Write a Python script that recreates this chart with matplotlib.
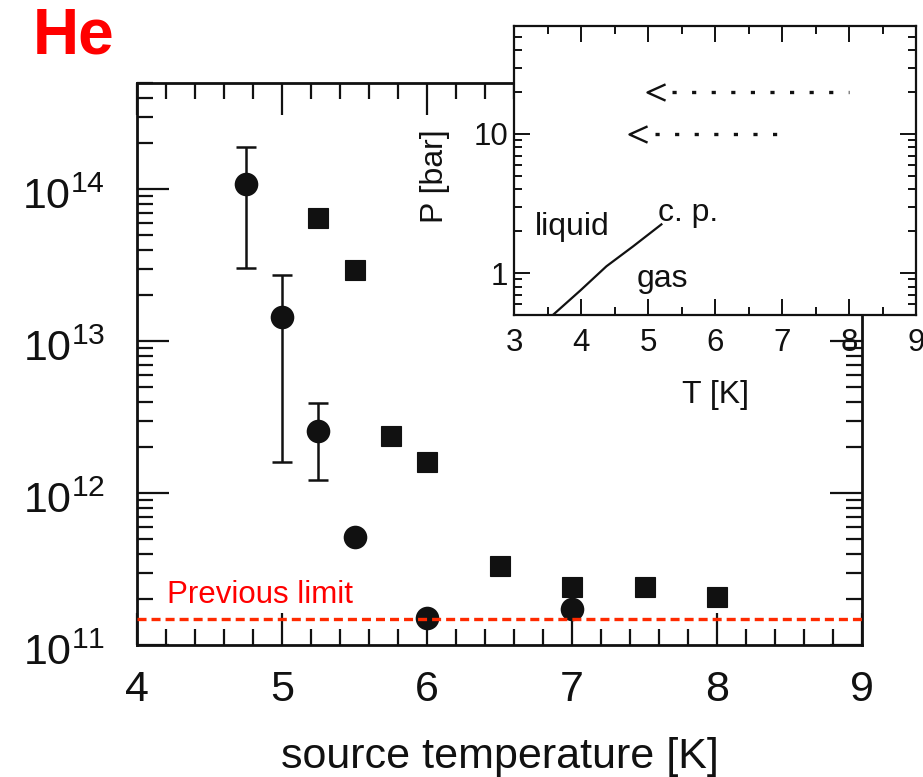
import numpy as np
import matplotlib
matplotlib.use("Agg")
import matplotlib.pyplot as plt
from matplotlib.path import Path
from matplotlib.transforms import ScaledTranslation
from matplotlib.ticker import MultipleLocator, LogLocator, NullFormatter

plt.rcParams["font.family"] = ["Liberation Sans", "DejaVu Sans"]
plt.rcParams["mathtext.fontset"] = "custom"
plt.rcParams["mathtext.rm"] = "Liberation Sans"
plt.rcParams["mathtext.it"] = "Liberation Sans:italic"
plt.rcParams["mathtext.bf"] = "Liberation Sans:bold"
plt.rcParams["lines.scale_dashes"] = False

# Beam intensity vs. source temperature
circle_T = [4.75, 5.0, 5.25, 5.5, 6.0, 7.0]
circle_flux = [1.09e14, 1.44e13, 2.57e12, 5.16e11, 1.50e11, 1.72e11]
err_T = [4.75, 5.0, 5.25]
err_center = [1.09e14, 1.44e13, 2.57e12]
err_low = [3.03e13, 1.61e12, 1.22e12]
err_high = [1.89e14, 2.72e13, 3.93e12]

square_T = [5.25, 5.5, 5.75, 6.0, 6.5, 7.0, 7.5, 8.0]
square_flux = [6.47e13, 2.93e13, 2.37e12, 1.59e12, 3.33e11, 2.42e11, 2.42e11, 2.08e11]

previous_limit = 1.48e11

# Helium phase diagram (inset)
vp_T = [3.58, 3.99, 4.38, 4.78, 5.2]
vp_P = [0.50, 0.75, 1.12, 1.56, 2.24]
arrow_start_T = [8.0, 7.0]
arrow_end_T = [4.98, 4.72]
arrow_P = [20.0, 10.0]

W, H = 923, 777
fig = plt.figure(figsize=(W / 100, H / 100), dpi=100)

ax = fig.add_axes([137 / W, 1 - 645 / H, (862 - 137) / W, (645 - 83) / H])
ax.set_yscale("log")
ax.set_xlim(4, 9)
ax.set_ylim(1e11, 5e14)

ink = "#111111"
ax.errorbar(err_T, err_center,
            yerr=[np.array(err_center) - np.array(err_low),
                  np.array(err_high) - np.array(err_center)],
            fmt="none", ecolor=ink, elinewidth=1.8, capsize=7.5, capthick=1.8,
            zorder=2)
ax.plot(circle_T, circle_flux, "o", color=ink, ms=17, mew=0, zorder=3)
ax.plot(square_T, square_flux, "s", color=ink, ms=14.2, mew=0.8, zorder=3)

ax.axhline(previous_limit, color="#ff2a00", lw=2.4,
           linestyle=(0, (6.5, 3.6)), zorder=4)
ax.text(4.205, 1.9e11, "Previous limit", color="#ff0000", fontsize=22.5,
        ha="left", va="baseline")

ax.xaxis.set_major_locator(MultipleLocator(1))
ax.xaxis.set_minor_locator(MultipleLocator(0.2))
ax.yaxis.set_major_locator(LogLocator(base=10, numticks=10))
ax.yaxis.set_minor_locator(LogLocator(base=10, subs=np.arange(2, 10), numticks=20))
ax.yaxis.set_minor_formatter(NullFormatter())
ax.tick_params(which="both", direction="in", top=True, right=True, width=1.6,
               colors=ink, labelsize=31)
ax.tick_params(which="major", length=23)
ax.tick_params(which="minor", length=11.5)
ax.tick_params(axis="x", which="major", pad=18)
ax.tick_params(axis="y", which="major", pad=23)
for s in ax.spines.values():
    s.set_linewidth(2.0)
    s.set_color(ink)
# nudge the power-of-ten labels slightly below their ticks
shift = ScaledTranslation(0, -4 / 100, fig.dpi_scale_trans)
for tick in ax.yaxis.get_major_ticks():
    tick.label1.set_transform(tick.label1.get_transform() + shift)

ax.set_xlabel("source temperature [K]", fontsize=31, color=ink)
ax.xaxis.label.set_va("baseline")
ax.xaxis.set_label_coords(0.5, -0.2189)

fig.text(33 / W, 1 - 53 / H, "He", color="#ff0000", fontsize=46,
         fontweight="bold", ha="left", va="baseline")

# Inset: phase diagram
axi = fig.add_axes([514 / W, 1 - 315 / H, (916 - 514) / W, (315 - 25.7) / H])
axi.set_facecolor("white")
axi.set_yscale("log")
axi.set_xlim(3, 9)
axi.set_ylim(0.5, 60)
axi.plot(vp_T, vp_P, color=ink, lw=1.6)

head = Path([(1.0, 0.45), (0.0, 0.0), (1.0, -0.45)],
            [Path.MOVETO, Path.LINETO, Path.LINETO])
for t0, t1, p in zip(arrow_start_T, arrow_end_T, arrow_P):
    axi.plot([t1 + 0.38, t0], [p, p], color=ink, lw=2.4,
             linestyle=(0, (3, 11.1)), solid_capstyle="butt",
             dash_capstyle="butt")
    axi.plot([t1], [p], marker=head, ms=26, mfc="none", mec=ink, mew=1.7,
             linestyle="none")

axi.text(3.31, 1.89, "liquid", fontsize=23, color=ink, va="baseline")
axi.text(5.15, 2.36, "c. p.", fontsize=23, color=ink, va="baseline")
axi.text(4.83, 0.80, "gas", fontsize=23, color=ink, va="baseline")

axi.xaxis.set_major_locator(MultipleLocator(1))
axi.xaxis.set_minor_locator(MultipleLocator(0.5))
axi.yaxis.set_major_locator(LogLocator(base=10, numticks=10))
axi.yaxis.set_minor_locator(LogLocator(base=10, subs=np.arange(2, 10), numticks=20))
axi.yaxis.set_minor_formatter(NullFormatter())
axi.yaxis.set_major_formatter(plt.FuncFormatter(lambda v, _: f"{v:g}"))
axi.tick_params(which="both", direction="in", top=True, right=True, width=1.4,
                colors=ink, labelsize=22.5)
axi.tick_params(which="major", length=11.5)
axi.tick_params(which="minor", length=6)
axi.tick_params(axis="x", which="major", pad=9)
axi.tick_params(axis="y", which="major", pad=4)
for s in axi.spines.values():
    s.set_linewidth(1.6)
    s.set_color(ink)

axi.set_xlabel("T [K]", fontsize=23, color=ink)
axi.xaxis.label.set_va("center")
axi.xaxis.set_label_coords(0.5, -0.2765)
axi.set_ylabel("P [bar]", fontsize=23, color=ink)
axi.yaxis.label.set_va("center")
axi.yaxis.set_label_coords(-0.1965, 0.48)

fig.savefig("out.png", dpi=100)
